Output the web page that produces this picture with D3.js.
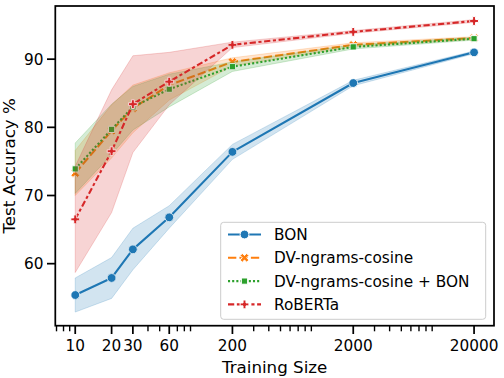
<!DOCTYPE html>
<html><head><meta charset="utf-8">
<script src="https://cdn.jsdelivr.net/npm/d3@7"></script>
<style>body{margin:0;background:#fff}svg{display:block}text{font-family:"DejaVu Sans",sans-serif;fill:#000}</style>
</head><body><svg id="c" width="504" height="378"></svg>
<script>
// ---- data ----
const sizes = [10, 20, 30, 60, 200, 2000, 20000];
const xTickLabels = ["10", "20", "30", "60", "200", "2000", "20000"];
const yTicks = [60, 70, 80, 90];
const seriesNames = ["BON", "DV-ngrams-cosine", "DV-ngrams-cosine + BON", "RoBERTa"];
const bon      = [55.4, 57.9, 62.1, 66.8, 76.4, 86.5, 91.0];
const bonLo    = [52.9, 54.9, 59.1, 65.2, 75.3, 86.1, 90.8];
const bonHi    = [57.9, 60.9, 65.2, 68.5, 77.5, 86.9, 91.2];
const dv       = [73.3, 79.5, 82.8, 86.2, 89.6, 92.1, 93.1];
const dvLo     = [70.0, 75.5, 79.2, 84.0, 89.0, 91.8, 92.9];
const dvHi     = [76.6, 83.3, 86.2, 88.0, 90.2, 92.4, 93.3];
const dvb      = [73.9, 79.7, 83.0, 85.6, 88.9, 91.8, 93.0];
const dvbLo    = [70.3, 76.0, 79.6, 83.0, 88.2, 91.5, 92.8];
const dvbHi    = [77.7, 83.4, 86.0, 87.8, 89.6, 92.1, 93.2];
const roberta  = [66.5, 76.5, 83.4, 86.7, 92.1, 94.0, 95.6];
const robLo    = [58.7, 67.5, 76.3, 83.3, 91.7, 93.8, 95.4];
const robHi    = [74.3, 85.5, 90.5, 91.0, 92.5, 94.2, 95.8];

// ---- styles / layout ----
const colors = ["#1f77b4", "#ff7f0e", "#2ca02c", "#d62728"];
const lw = 2.08;
const dashes = [null, [4*lw, 1.5*lw], [1*lw, 1*lw], [3*lw, 1.25*lw, 1.5*lw, 1.25*lw]];
const markerTypes = ["o", "X", "s", "P"];
const ms = 8.8;
const L = 55.3, R = 494, T = 6, B = 325.7;

const svg = d3.select("#c");
const x = d3.scaleLog().domain([6.84, 29240]).range([L, R]);
const y = d3.scaleLinear().domain([50.9, 97.8]).range([B, T]);

const series = [
  {v: bon, lo: bonLo, hi: bonHi},
  {v: dv, lo: dvLo, hi: dvHi},
  {v: dvb, lo: dvbLo, hi: dvbHi},
  {v: roberta, lo: robLo, hi: robHi}
];

svg.append("defs").append("clipPath").attr("id", "clip")
  .append("rect").attr("x", L).attr("y", T).attr("width", R - L).attr("height", B - T);

function markerPath(type) {
  const s = ms;
  let pts;
  if (type === "o") return d3.symbol(d3.symbolCircle, Math.PI * (s/2) * (s/2))();
  if (type === "s") { const h = s / 2 / Math.SQRT2; pts = [[-h,-h],[h,-h],[h,h],[-h,h]]; }
  if (type === "X") pts = [[-1,-2],[0,-1],[1,-2],[2,-1],[1,0],[2,1],[1,2],[0,1],[-1,2],[-2,1],[-1,0],[-2,-1]].map(p => [p[0]/4*s, p[1]/4*s]);
  if (type === "P") pts = [[-1,-3],[1,-3],[1,-1],[3,-1],[3,1],[1,1],[1,3],[-1,3],[-1,1],[-3,1],[-3,-1],[-1,-1]].map(p => [p[0]/6*s, p[1]/6*s]);
  return "M" + pts.map(p => p.join(",")).join("L") + "Z";
}

const plot = svg.append("g").attr("clip-path", "url(#clip)");
series.forEach((s, i) => {
  const pts = sizes.map((d, k) => ({x: d, v: s.v[k], lo: s.lo[k], hi: s.hi[k]}));
  const line = d3.line().x(d => x(d.x)).y(d => y(d.v));
  const path = plot.append("path").datum(pts).attr("d", line)
    .attr("fill", "none").attr("stroke", colors[i]).attr("stroke-width", lw)
    .attr("stroke-linecap", dashes[i] ? "butt" : "round").attr("stroke-linejoin", "round");
  if (dashes[i]) path.attr("stroke-dasharray", dashes[i].join(","));
  plot.selectAll(null).data(pts).enter().append("path")
    .attr("d", markerPath(markerTypes[i]))
    .attr("transform", d => `translate(${x(d.x)},${y(d.v)})`)
    .attr("fill", colors[i]).attr("stroke", "#fff").attr("stroke-width", 1);
  const area = d3.area().x(d => x(d.x)).y0(d => y(d.lo)).y1(d => y(d.hi));
  plot.append("path").datum(pts).attr("d", area)
    .attr("fill", colors[i]).attr("fill-opacity", 0.2)
    .attr("stroke", colors[i]).attr("stroke-opacity", 0.2).attr("stroke-width", 1);
});

// ---- axes ----
const ax = svg.append("g");
sizes.forEach((d, k) => {
  ax.append("line").attr("x1", x(d)).attr("x2", x(d)).attr("y1", B).attr("y2", B + 8.3)
    .attr("stroke", "#000").attr("stroke-width", 1.74);
  ax.append("text").attr("x", x(d)).attr("y", 350.5).attr("text-anchor", "middle")
    .attr("font-size", "15.3px").text(xTickLabels[k]);
});
const minor = [];
for (let e = 0; e <= 4; e++) for (let m = 2; m <= 9; m++) {
  const v = m * Math.pow(10, e);
  if (v > x.domain()[0] && v < x.domain()[1] && !sizes.includes(v)) minor.push(v);
}
minor.forEach(v => {
  ax.append("line").attr("x1", x(v)).attr("x2", x(v)).attr("y1", B).attr("y2", B + 5.6)
    .attr("stroke", "#000").attr("stroke-width", 1.39);
});
yTicks.forEach(t => {
  ax.append("line").attr("x1", L - 8.3).attr("x2", L).attr("y1", y(t)).attr("y2", y(t))
    .attr("stroke", "#000").attr("stroke-width", 1.74);
  ax.append("text").attr("x", 43.5).attr("y", y(t)).attr("dy", "0.36em").attr("text-anchor", "end")
    .attr("font-size", "15.3px").text(t);
});
ax.append("rect").attr("x", L).attr("y", T).attr("width", R - L).attr("height", B - T)
  .attr("fill", "none").attr("stroke", "#000").attr("stroke-width", 1.74);

svg.append("text").attr("x", (L + R) / 2).attr("y", 372.5).attr("text-anchor", "middle")
  .attr("font-size", "16.7px").text("Training Size");
svg.append("text").attr("transform", `translate(14.8,${(T + B) / 2}) rotate(-90)`)
  .attr("text-anchor", "middle").attr("font-size", "16.7px").text("Test Accuracy %");

// ---- legend ----
const lg = svg.append("g");
lg.append("rect").attr("x", 220.7).attr("y", 222.3).attr("width", 265).attr("height", 97)
  .attr("rx", 3).attr("fill", "#fff").attr("fill-opacity", 0.8)
  .attr("stroke", "#cccccc").attr("stroke-width", 1);
seriesNames.forEach((n, i) => {
  const yy = 234.5 + i * 23.3;
  const l = lg.append("line").attr("x1", 228).attr("x2", 261).attr("y1", yy).attr("y2", yy)
    .attr("stroke", colors[i]).attr("stroke-width", lw);
  if (dashes[i]) l.attr("stroke-dasharray", dashes[i].join(","));
  lg.append("path").attr("d", markerPath(markerTypes[i]))
    .attr("transform", `translate(244.5,${yy})`)
    .attr("fill", colors[i]).attr("stroke", "#fff").attr("stroke-width", 1);
  lg.append("text").attr("x", 274).attr("y", yy).attr("dy", "0.36em")
    .attr("font-size", "15.3px").text(n);
});
</script></body></html>
